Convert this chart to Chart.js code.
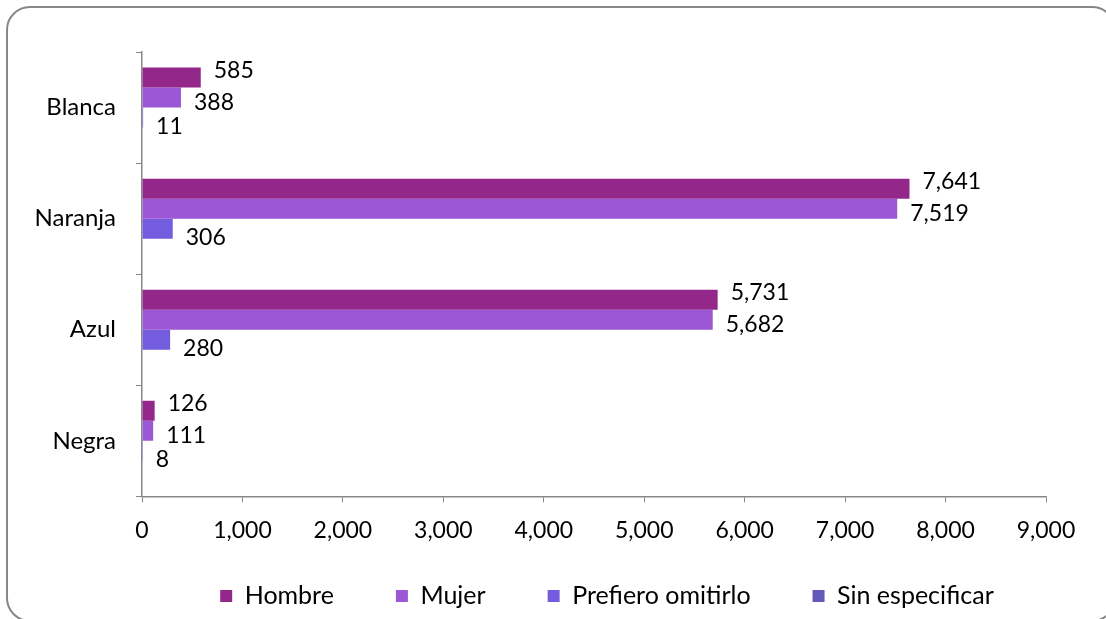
<!DOCTYPE html>
<html lang="es">
<head>
<meta charset="utf-8">
<title>Distribución por color</title>
<script src="https://cdn.jsdelivr.net/npm/chart.js@4.4.1/dist/chart.umd.min.js"></script>
<style>
  html, body { margin: 0; padding: 0; background: #ffffff; overflow: hidden; }
  #wrap { position: relative; width: 1106px; height: 619px; overflow: hidden; }
  #frame {
    position: absolute; left: 6px; top: 6px; width: 1110px; height: 616px;
    box-sizing: border-box; border: 2px solid #878787; border-radius: 24px;
  }
  #chart { position: absolute; left: 0; top: 0; }
</style>
</head>
<body>
<div id="wrap">
  <div id="frame"></div>
  <canvas id="chart" width="1106" height="619"></canvas>
</div>
<script>
// Categories (top to bottom) and series values
const categories = ['Blanca', 'Naranja', 'Azul', 'Negra'];
const hombre = [585, 7641, 5731, 126];
const mujer = [388, 7519, 5682, 111];
const prefieroOmitirlo = [11, 306, 280, 8];
const sinEspecificar = [null, null, null, null];
const seriesNames = ['Hombre', 'Mujer', 'Prefiero omitirlo', 'Sin especificar'];
const xTickValues = [0, 1000, 2000, 3000, 4000, 5000, 6000, 7000, 8000, 9000];

const fmt = v => Number(v).toLocaleString('en-US');
const axisGray = '#888888';
const family = 'Lato, "Open Sans", sans-serif';

Chart.defaults.font.family = family;
Chart.defaults.font.size = 23;
Chart.defaults.color = '#000000';

// Value labels drawn just past the end of each bar
const barValueLabels = {
  id: 'barValueLabels',
  afterDatasetsDraw(chart, args, opts) {
    const ctx = chart.ctx;
    ctx.save();
    ctx.font = opts.size + 'px ' + family;
    ctx.fillStyle = '#000000';
    ctx.textAlign = 'left';
    ctx.textBaseline = 'middle';
    chart.data.datasets.forEach((ds, di) => {
      const meta = chart.getDatasetMeta(di);
      meta.data.forEach((bar, i) => {
        const v = ds.data[i];
        if (v === null || v === undefined) return;
        const dy = (opts.dy && opts.dy[di]) || 0;
        ctx.fillText(fmt(v), bar.x + opts.dx, bar.y + dy);
      });
    });
    ctx.restore();
  }
};

// Places the legend row: centred on centerX, text middle at textY
const legendPlacement = {
  id: 'legendPlacement',
  afterLayout(chart, args, opts) {
    const lg = chart.legend;
    if (!lg) return;
    const half = (lg.right - lg.left) / 2;
    lg.left = opts.centerX - half;
    lg.right = opts.centerX + half;
    const lo = chart.options.plugins.legend.labels;
    const fs = lo.font.size;
    lg.top = opts.textY - lo.padding - fs / 2;
    lg.bottom = chart.height;
    lg.height = lg.bottom - lg.top;
  }
};

new Chart(document.getElementById('chart'), {
  type: 'bar',
  data: {
    labels: categories,
    datasets: [
      { label: seriesNames[0], data: hombre, backgroundColor: '#93278a' },
      { label: seriesNames[1], data: mujer, backgroundColor: '#9c57d6' },
      { label: seriesNames[2], data: prefieroOmitirlo, backgroundColor: '#735cdd' },
      { label: seriesNames[3], data: sinEspecificar, backgroundColor: '#655ab9' }
    ]
  },
  options: {
    indexAxis: 'y',
    responsive: false,
    animation: false,
    devicePixelRatio: 1,
    datasets: { bar: { categoryPercentage: 0.72, barPercentage: 1.0 } },
    layout: { padding: { top: 52, left: 20, right: 60, bottom: 0 } },
    scales: {
      x: {
        min: 0,
        max: 9000,
        afterBuildTicks(scale) { scale.ticks = xTickValues.map(v => ({ value: v })); },
        ticks: { padding: 14, callback: v => fmt(v), maxRotation: 0, autoSkip: false, font: { size: 23 } },
        grid: { drawOnChartArea: false, drawTicks: true, tickLength: 6, color: axisGray, lineWidth: 1 },
        border: { display: true, color: axisGray, width: 1.5 }
      },
      y: {
        afterFit(scale) { scale.width = 122; },
        ticks: { padding: 20, font: { size: 24 } },
        grid: { drawOnChartArea: false, drawTicks: true, tickLength: 6, color: axisGray, lineWidth: 1, offset: true },
        border: { display: true, color: axisGray, width: 1.5 }
      }
    },
    plugins: {
      legend: {
        position: 'bottom',
        maxHeight: 61,
        labels: { boxWidth: 12, boxHeight: 12, padding: 62, font: { size: 25 }, color: '#000000' }
      },
      tooltip: { enabled: false },
      barValueLabels: { dx: 13, dy: [-7, 5, 9, 0], size: 23 },
      legendPlacement: { centerX: 607, textY: 596 }
    }
  },
  plugins: [barValueLabels, legendPlacement]
});
</script>
</body>
</html>
